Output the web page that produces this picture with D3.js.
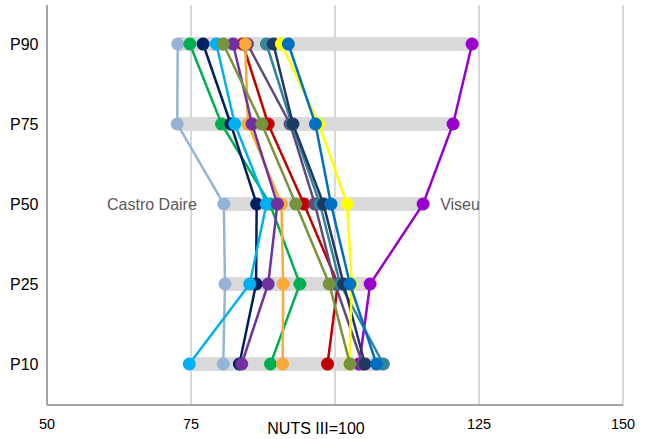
<!DOCTYPE html>
<html>
<head>
<meta charset="utf-8">
<script src="https://cdn.jsdelivr.net/npm/d3@7/dist/d3.min.js"></script>
<style>
html,body{margin:0;padding:0;background:#fff;}
svg{display:block;font-family:"Liberation Sans",Arial,sans-serif;}
</style>
</head>
<body>
<svg id="chart" width="649" height="439"></svg>
<script>
const levels = ["P90", "P75", "P50", "P25", "P10"];
const xTicks = [50, 75, 100, 125, 150];
const xTickLabels = ["50", "75", "", "125", "150"];
const axisTitle = "NUTS III=100";

const seriesNames = ["Castro Daire", "Viseu", "S3", "S4", "S5", "S8", "S10", "S9", "S7", "S11", "S12", "S13", "S6", "S14"];
const seriesColors = ["#95B3D7", "#9900CC", "#00B050", "#002060", "#00B0F0", "#C00000", "#604A7B", "#F9A83A", "#7030A0", "#31859C", "#1F3864", "#FFFF00", "#77933C", "#0070C0"];
// values per series in order P90, P75, P50, P25, P10
const seriesValues = [
  [72.7, 72.6, 80.7, 80.9, 80.6],
  [123.8, 120.5, 115.3, 106.1, 104.2],
  [74.8, 80.3, 88.7, 93.9, 88.8],
  [77.1, 81.9, 86.4, 86.3, 83.4],
  [79.4, 82.6, 88.1, 85.2, 74.7],
  [84.0, 88.4, 94.6, 100.5, 98.7],
  [84.8, 92.2, 96.5, 100.0, 104.8],
  [84.4, 84.9, 90.7, 91.0, 90.9],
  [82.3, 85.6, 90.0, 88.4, 83.8],
  [88.1, 92.5, 97.4, 100.9, 108.4],
  [89.3, 92.7, 98.0, 101.5, 105.2],
  [90.7, 97.2, 102.1, 102.9, 102.5],
  [80.6, 87.3, 93.2, 99.0, 102.6],
  [91.9, 96.6, 99.3, 102.6, 107.2]
];
const labelled = [{name: "Castro Daire", side: "left"}, {name: "Viseu", side: "right"}];

const svg = d3.select("#chart");
const x = d3.scaleLinear().domain([50, 150]).range([47, 623]);
const y = d3.scalePoint().domain(levels).range([44, 364]);
const plotTop = 5, plotBottom = 405;

// grid lines
svg.append("g").selectAll("line").data(xTicks.slice(1)).join("line")
  .attr("x1", d => x(d)).attr("x2", d => x(d))
  .attr("y1", plotTop).attr("y2", plotBottom)
  .attr("stroke", "#D9D9D9").attr("stroke-width", 2);

// range bars
svg.append("g").selectAll("rect").data(levels).join("rect")
  .attr("x", (l, i) => x(d3.min(seriesValues, s => s[i])))
  .attr("width", (l, i) => x(d3.max(seriesValues, s => s[i])) - x(d3.min(seriesValues, s => s[i])))
  .attr("y", l => y(l) - 7).attr("height", 14)
  .attr("fill", "#D9D9D9");

// axes lines
svg.append("line").attr("x1", x(50)).attr("x2", x(50)).attr("y1", plotTop).attr("y2", plotBottom)
  .attr("stroke", "#868686").attr("stroke-width", 1.5);
svg.append("line").attr("x1", x(50)).attr("x2", x(150)).attr("y1", plotBottom).attr("y2", plotBottom)
  .attr("stroke", "#868686").attr("stroke-width", 1.5);

// series
const line = d3.line().x(d => x(d.v)).y(d => y(d.l));
seriesValues.forEach((vals, si) => {
  const pts = vals.map((v, i) => ({v, l: levels[i]}));
  const g = svg.append("g");
  g.append("path").attr("d", line(pts)).attr("fill", "none")
    .attr("stroke", seriesColors[si]).attr("stroke-width", 2.5);
  g.selectAll("circle").data(pts).join("circle")
    .attr("cx", d => x(d.v)).attr("cy", d => y(d.l)).attr("r", 6.5)
    .attr("fill", seriesColors[si]);
});

// y labels
svg.append("g").selectAll("text").data(levels).join("text")
  .attr("x", 10).attr("y", l => y(l) + 5.5)
  .attr("font-size", 16).attr("fill", "#000").text(l => l);

// x tick labels
svg.append("g").selectAll("text").data(xTicks).join("text")
  .attr("x", d => x(d)).attr("y", 429).attr("text-anchor", "middle")
  .attr("font-size", 14.5).attr("fill", "#000").text((d, i) => xTickLabels[i]);
svg.append("text").attr("x", 316).attr("y", 434).attr("text-anchor", "middle")
  .attr("font-size", 16).attr("fill", "#000").text(axisTitle);

// series labels at P50
labelled.forEach(lb => {
  const si = seriesNames.indexOf(lb.name);
  const px = x(seriesValues[si][2]);
  svg.append("text")
    .attr("x", lb.side === "left" ? px - 27 : px + 17)
    .attr("y", y("P50") + 5.5)
    .attr("text-anchor", lb.side === "left" ? "end" : "start")
    .attr("font-size", 16).attr("fill", "#595959").text(lb.name);
});
</script>
</body>
</html>
